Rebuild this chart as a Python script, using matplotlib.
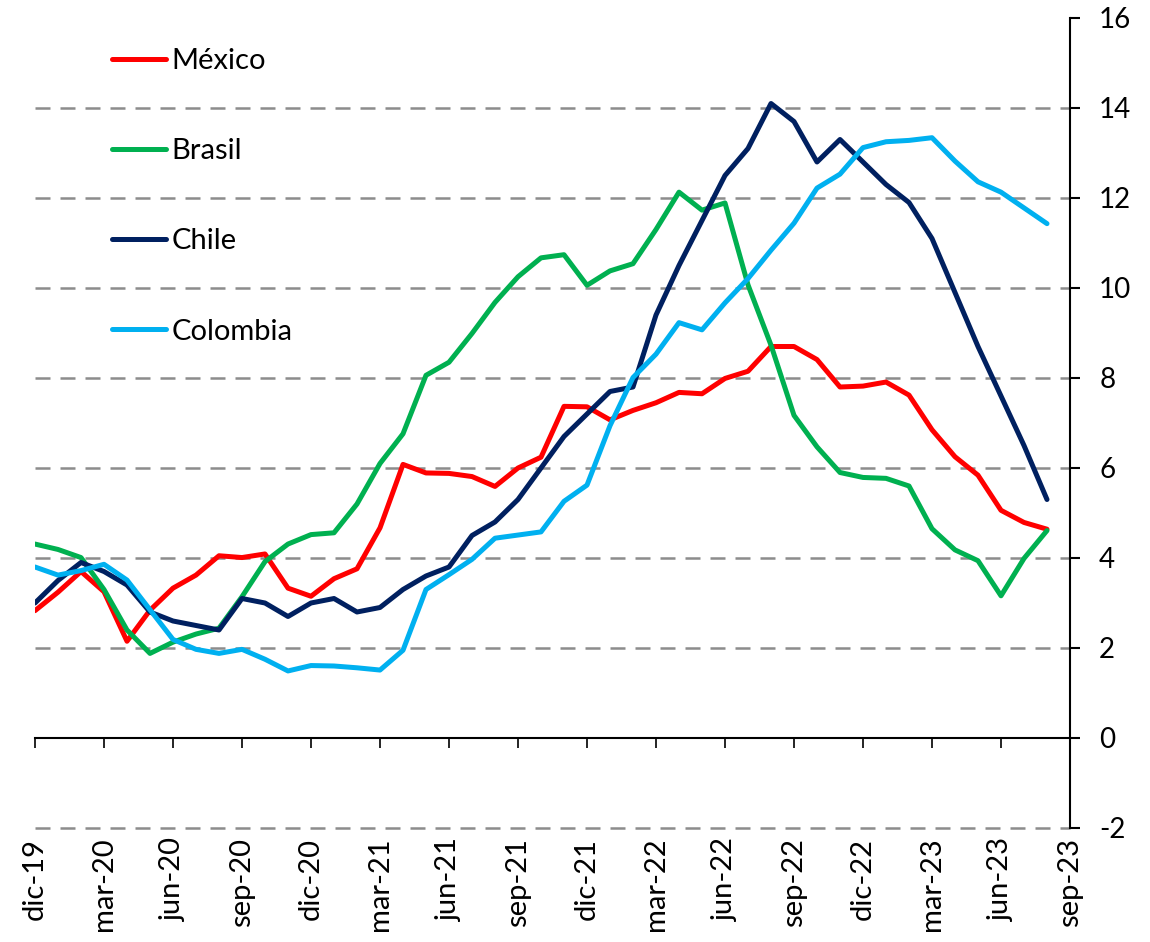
import numpy as np
import matplotlib.pyplot as plt

plt.rcParams['font.family'] = ['Lato', 'DejaVu Sans']
plt.rcParams['axes.unicode_minus'] = False

# monthly inflation, dic-19 .. ago-23
mexico = [2.83, 3.24, 3.70, 3.25, 2.15, 2.84, 3.33, 3.62, 4.05, 4.01, 4.09, 3.33,
          3.15, 3.54, 3.76, 4.67, 6.08, 5.89, 5.88, 5.81, 5.59, 6.00, 6.24, 7.37,
          7.36, 7.07, 7.28, 7.45, 7.68, 7.65, 7.99, 8.15, 8.70, 8.70, 8.41, 7.80,
          7.82, 7.91, 7.62, 6.85, 6.25, 5.84, 5.06, 4.79, 4.64]
brasil = [4.31, 4.19, 4.01, 3.30, 2.40, 1.88, 2.13, 2.31, 2.44, 3.14, 3.92, 4.31,
          4.52, 4.56, 5.20, 6.10, 6.76, 8.06, 8.35, 8.99, 9.68, 10.25, 10.67, 10.74,
          10.06, 10.38, 10.54, 11.30, 12.13, 11.73, 11.89, 10.07, 8.73, 7.17, 6.47, 5.90,
          5.79, 5.77, 5.60, 4.65, 4.18, 3.94, 3.16, 3.99, 4.61]
chile = [3.0, 3.5, 3.9, 3.7, 3.4, 2.8, 2.6, 2.5, 2.4, 3.1, 3.0, 2.7,
         3.0, 3.1, 2.8, 2.9, 3.3, 3.6, 3.8, 4.5, 4.8, 5.3, 6.0, 6.7,
         7.2, 7.7, 7.8, 9.4, 10.5, 11.5, 12.5, 13.1, 14.1, 13.7, 12.8, 13.3,
         12.8, 12.3, 11.9, 11.1, 9.9, 8.7, 7.6, 6.5, 5.3]
colombia = [3.80, 3.62, 3.72, 3.86, 3.51, 2.85, 2.19, 1.97, 1.88, 1.97, 1.75, 1.49,
            1.61, 1.60, 1.56, 1.51, 1.95, 3.30, 3.63, 3.97, 4.44, 4.51, 4.58, 5.26,
            5.62, 6.94, 8.01, 8.53, 9.23, 9.07, 9.67, 10.21, 10.84, 11.44, 12.22, 12.53,
            13.12, 13.25, 13.28, 13.34, 12.82, 12.36, 12.13, 11.78, 11.43]

tick_labels = ['dic-19', 'mar-20', 'jun-20', 'sep-20', 'dic-20', 'mar-21', 'jun-21', 'sep-21',
               'dic-21', 'mar-22', 'jun-22', 'sep-22', 'dic-22', 'mar-23', 'jun-23', 'sep-23']

fig = plt.figure(figsize=(11.5, 9.42), dpi=100)
ax = fig.add_axes([35 / 1150, 1 - 828 / 942, 1035 / 1150, 810 / 942])

x = np.arange(len(mexico))

# dashed grid, 0 is the solid axis line
for v in range(-2, 16, 2):
    if v != 0:
        ax.axhline(v, color='#8c8c8c', lw=1.8, ls=(0, (6, 4)), zorder=1, clip_on=False)

series = [('México', mexico, '#FF0000'),
          ('Brasil', brasil, '#00B050'),
          ('Chile', chile, '#002060'),
          ('Colombia', colombia, '#00B0F0')]
for name, vals, col in series:
    ax.plot(x, vals, color=col, lw=3.6, label=name, solid_capstyle='round',
            solid_joinstyle='round', zorder=3)

ax.set_xlim(0, 45)
ax.set_ylim(-2, 16)
ax.set_yticks(range(-2, 17, 2))
ax.set_xticks(range(0, 46, 3))

ax.spines['left'].set_visible(False)
ax.spines['top'].set_visible(False)
ax.spines['bottom'].set_position(('data', 0))
ax.spines['bottom'].set_linewidth(1.5)
ax.spines['right'].set_linewidth(1.5)
ax.yaxis.tick_right()
ax.tick_params(axis='y', direction='out', length=7, width=1.5, labelsize=20, pad=14)
ax.tick_params(axis='x', direction='out', length=7, width=1.2, labelbottom=False)

for i, lab in enumerate(tick_labels):
    ax.text(i * 3, -0.012, lab, transform=ax.get_xaxis_transform(), rotation=90,
            ha='center', va='top', fontsize=21)

leg = ax.legend(loc='upper left', bbox_to_anchor=(77 / 1035, 1 - 30 / 810), frameon=False,
                fontsize=21, handlelength=1.85, handletextpad=0.2, labelspacing=2.2,
                borderpad=0, borderaxespad=0)

fig.savefig('out.png', dpi=100)
